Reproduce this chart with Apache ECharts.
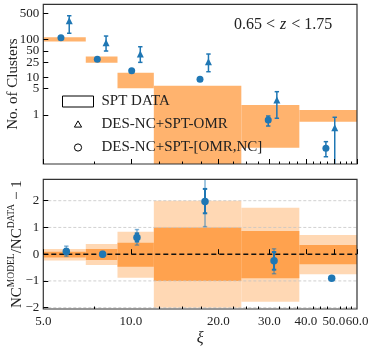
<!DOCTYPE html>
<html>
<head>
<meta charset="utf-8">
<script src="https://cdn.jsdelivr.net/npm/echarts@6/dist/echarts.min.js"></script>
<style>
  html, body { margin: 0; padding: 0; background: #fff; }
  #chart { width: 374px; height: 347px; }
</style>
</head>
<body>
<div id="chart"></div>
<script>
// xi bin edges
const binEdges = [5, 7, 9, 12, 24, 38, 60];

// top panel: SPT data boxes (number of clusters, low / high)
const sptLow = [90, 24.5, 5.1, 0.03, 0.136, 0.665];
const sptHigh = [116, 35.5, 13.3, 6.0, 1.85, 1.36];

// DES-NC+SPT-OMR (triangles)
const omrXi = [6.14, 8.22, 10.78, 18.5, 31.8, 50.3];
const omrVal = [318, 83, 41.6, 26, 2.5, 0.46];
const omrLo = [148, 50, 25, 14.1, 0.82, 0.02];
const omrHi = [432, 125, 65, 41.6, 4.16, 0.87];

// DES-NC+SPT-[OMR,NC] (circles)
const ncXi = [5.75, 7.67, 10.07, 17.3, 29.7, 46.9];
const ncVal = [113, 30.1, 15, 8.9, 0.74, 0.131];
const ncLo = [105, 28, 14, 8.2, 0.51, 0.078];
const ncHi = [121, 32.5, 16.2, 9.6, 0.94, 0.196];

// bottom panel: model bands (1 sigma dark, 2 sigma light)
const band1Lo = [-0.12, -0.22, -0.47, -1.0, -0.9, -0.38];
const band1Hi = [0.09, 0.19, 0.43, 1.0, 0.87, 0.34];
const band2Lo = [-0.24, -0.40, -0.88, -2.0, -1.78, -0.75];
const band2Hi = [0.19, 0.38, 0.84, 2.0, 1.74, 0.72];

// bottom panel: ratio points
const ratXi = [6.0, 8.0, 10.5, 18.0, 31.1, 49.1];
const ratVal = [0.1, 0.0, 0.62, 1.97, -0.25, -0.9];
const rat1Lo = [0.0, -0.05, 0.47, 1.53, -0.58, -0.9];
const rat1Hi = [0.2, 0.05, 0.78, 2.44, 0.08, -0.9];
const rat2Lo = [-0.08, -0.1, 0.34, 1.03, -0.73, -0.9];
const rat2Hi = [0.3, 0.1, 0.92, 3.2, 0.2, -0.9];

// ticks
const xMajor = [5, 10, 20, 30, 40, 50, 60];
const xMinor = [7.5, 12.5, 15, 17.5, 22.5, 25, 27.5, 32.5, 35, 37.5, 42.5, 45, 47.5, 52.5, 55, 57.5];
const yTopTicks = [1, 5, 10, 25, 50, 100, 250, 500];
const yBotTicks = [-2, -1, 0, 1, 2];
const gridVals = [-2, -1, 1, 2];

const FONT = 'Liberation Serif';
const BLUE = '#1f77b4';
const TXT = '#222';

function clampY(y, cs) {
  return Math.min(Math.max(y, cs.y), cs.y + cs.height);
}

function boxRender(fill) {
  return function (params, api) {
    const cs = params.coordSys;
    const p0 = api.coord([api.value(0), api.value(3)]);
    const p1 = api.coord([api.value(1), api.value(2)]);
    const y0 = clampY(p0[1], cs), y1 = clampY(p1[1], cs);
    return {
      type: 'rect',
      shape: { x: p0[0], y: y0, width: p1[0] - p0[0], height: y1 - y0 },
      style: { fill: fill }
    };
  };
}

function errRender(color, lw, cap) {
  return function (params, api) {
    const cs = params.coordSys;
    const hi = api.coord([api.value(0), api.value(2)]);
    const lo = api.coord([api.value(0), api.value(1)]);
    const x = hi[0];
    const yt = clampY(hi[1], cs), yb = clampY(lo[1], cs);
    const kids = [{ type: 'line', shape: { x1: x, y1: yt, x2: x, y2: yb }, style: { stroke: color, lineWidth: lw } }];
    if (cap && yt === hi[1]) kids.push({ type: 'line', shape: { x1: x - cap, y1: yt, x2: x + cap, y2: yt }, style: { stroke: color, lineWidth: lw } });
    if (cap && yb === lo[1]) kids.push({ type: 'line', shape: { x1: x - cap, y1: yb, x2: x + cap, y2: yb }, style: { stroke: color, lineWidth: lw } });
    return { type: 'group', children: kids };
  };
}

function hlineRender(color, lw, dash) {
  return function (params, api) {
    const cs = params.coordSys;
    const y = api.coord([api.value(0), api.value(1)])[1];
    return {
      type: 'line',
      shape: { x1: cs.x, y1: y, x2: cs.x + cs.width, y2: y },
      style: { stroke: color, lineWidth: lw, lineDash: dash }
    };
  };
}

function frameRender(params) {
  const cs = params.coordSys;
  return {
    type: 'rect',
    shape: { x: cs.x, y: cs.y, width: cs.width, height: cs.height },
    style: { fill: 'none', stroke: '#333', lineWidth: 1.2 }
  };
}

const sptBoxes = sptLow.map((lo, i) => [binEdges[i], binEdges[i + 1], lo, sptHigh[i]]);
const band1 = band1Lo.map((lo, i) => [binEdges[i], binEdges[i + 1], lo, band1Hi[i]]);
const band2 = band2Lo.map((lo, i) => [binEdges[i], binEdges[i + 1], lo, band2Hi[i]]);

function xAxisBase(grid, ticks, len, showLabel) {
  return {
    type: 'log', gridIndex: grid, min: 5, max: 60, position: 'bottom', z: 10,
    axisLine: { show: false },
    axisTick: { show: true, inside: true, length: len, customValues: ticks, lineStyle: { color: '#000', width: 1 } },
    axisLabel: showLabel ? {
      customValues: xMajor, formatter: v => v.toFixed(1), hideOverlap: false,
      showMinLabel: true, showMaxLabel: true,
      fontFamily: FONT, fontSize: 13, color: TXT, margin: 6
    } : { show: false },
    splitLine: { show: false }
  };
}

const xBottom = xAxisBase(1, xMajor, 5, true);
xBottom.name = 'ξ';
xBottom.nameLocation = 'middle';
xBottom.nameGap = 22;
xBottom.nameTextStyle = { fontFamily: FONT, fontSize: 16, fontStyle: 'italic', color: TXT };

const option = {
  animation: false,
  backgroundColor: '#fff',
  title: {
    text: '{a|0.65 <} {z|z} {a|< 1.75}',
    left: 229, top: 11,
    textStyle: {
      fontWeight: 'normal',
      rich: {
        a: { fontFamily: FONT, fontSize: 16, fontWeight: 'normal', color: TXT },
        z: { fontFamily: FONT, fontSize: 16, fontStyle: 'italic', fontWeight: 'normal', color: TXT }
      }
    }
  },
  legend: {
    orient: 'vertical', left: 57, top: 89,
    itemWidth: 31, itemHeight: 11, itemGap: 8,
    selectedMode: false,
    textStyle: { fontFamily: FONT, fontSize: 15, color: TXT, padding: [0, 0, 0, 3] },
    data: [
      { name: 'SPT DATA', icon: 'rect', itemStyle: { color: '#fff', borderColor: '#000', borderWidth: 1 } },
      { name: 'DES-NC+SPT-OMR', icon: 'path://M0,-5.5M0,5.5M-3.6,2.6L0,-3.6L3.6,2.6Z', itemStyle: { color: '#fff', borderColor: '#000', borderWidth: 1 } },
      { name: 'DES-NC+SPT-[OMR,NC]', icon: 'path://M0,-5.5M0,5.5M3.6,0A3.6,3.6,0,1,1,-3.6,0A3.6,3.6,0,1,1,3.6,0Z', itemStyle: { color: '#fff', borderColor: '#000', borderWidth: 1 } }
    ]
  },
  grid: [
    { left: 43.3, top: 4.3, width: 313.7, height: 159.7, show: false, outerBoundsMode: 'none' },
    { left: 43.3, top: 179.3, width: 313.7, height: 129.7, show: false, outerBoundsMode: 'none' }
  ],
  xAxis: [
    xAxisBase(0, xMajor, 5, false),
    xBottom,
    xAxisBase(0, xMinor, 2.5, false),
    xAxisBase(1, xMinor, 2.5, false)
  ],
  yAxis: [
    {
      type: 'log', gridIndex: 0, min: 0.05, max: 870, position: 'left', z: 10,
      axisLine: { show: false },
      axisTick: { inside: true, length: 5, customValues: yTopTicks, lineStyle: { color: '#000' } },
      axisLabel: {
        customValues: yTopTicks, formatter: v => String(v), fontFamily: FONT, fontSize: 13,
        color: TXT, margin: 4, hideOverlap: false, showMinLabel: true, showMaxLabel: true
      },
      splitLine: { show: false },
      name: 'No. of Clusters', nameLocation: 'middle', nameGap: 23, nameRotate: 90,
      nameMoveOverlap: false,
      nameTextStyle: { fontFamily: FONT, fontSize: 15, color: TXT }
    },
    {
      type: 'value', gridIndex: 1, min: -2.05, max: 2.8, position: 'left', z: 10,
      axisLine: { show: false },
      axisTick: { inside: true, length: 5, customValues: yBotTicks, lineStyle: { color: '#000' } },
      axisLabel: {
        customValues: yBotTicks, formatter: v => (v < 0 ? '\u2212' + Math.abs(v) : String(v)),
        fontFamily: FONT, fontSize: 13, color: TXT, margin: 4, hideOverlap: false,
        showMinLabel: true, showMaxLabel: true
      },
      splitLine: { show: false },
      name: '{m|NC}{s|MODEL}{m|/NC}{s|DATA}{m| \u2212 1}',
      nameLocation: 'middle', nameGap: 19, nameRotate: 90,
      nameMoveOverlap: false,
      nameTextStyle: {
        rich: {
          m: { fontFamily: FONT, fontSize: 15, color: TXT, lineHeight: 18, verticalAlign: 'bottom' },
          s: { fontFamily: FONT, fontSize: 9.5, color: TXT, verticalAlign: 'top' }
        }
      }
    }
  ],
  series: [
    // top panel
    { name: 'SPT DATA', type: 'custom', xAxisIndex: 0, yAxisIndex: 0, z: 1,
      renderItem: boxRender('#ffb36e'), encode: { x: [0, 1], y: [2, 3] }, data: sptBoxes },
    { name: 'omrErr', type: 'custom', xAxisIndex: 0, yAxisIndex: 0, z: 3,
      renderItem: errRender(BLUE, 1.5, 2.2), encode: { x: 0, y: [1, 2] },
      data: omrXi.map((x, i) => [x, omrLo[i], omrHi[i]]) },
    { name: 'DES-NC+SPT-OMR', type: 'scatter', xAxisIndex: 0, yAxisIndex: 0, z: 4,
      symbol: 'triangle', symbolSize: 7, itemStyle: { color: BLUE, opacity: 1 },
      data: omrXi.map((x, i) => [x, omrVal[i]]) },
    { name: 'ncErr', type: 'custom', xAxisIndex: 0, yAxisIndex: 0, z: 3,
      renderItem: errRender(BLUE, 1.5, 2.2), encode: { x: 0, y: [1, 2] },
      data: ncXi.map((x, i) => [x, ncLo[i], ncHi[i]]) },
    { name: 'DES-NC+SPT-[OMR,NC]', type: 'scatter', xAxisIndex: 0, yAxisIndex: 0, z: 4,
      symbol: 'circle', symbolSize: 7, itemStyle: { color: BLUE, opacity: 1 },
      data: ncXi.map((x, i) => [x, ncVal[i]]) },
    { name: 'frameTop', type: 'custom', xAxisIndex: 0, yAxisIndex: 0, z: 10, silent: true,
      renderItem: frameRender, data: [[10, 1]] },

    // bottom panel
    { name: 'band2', type: 'custom', xAxisIndex: 1, yAxisIndex: 1, z: 1,
      renderItem: boxRender('#ffd8b4'), encode: { x: [0, 1], y: [2, 3] }, data: band2 },
    { name: 'band1', type: 'custom', xAxisIndex: 1, yAxisIndex: 1, z: 1,
      renderItem: boxRender('#ffa24e'), encode: { x: [0, 1], y: [2, 3] }, data: band1 },
    { name: 'gridLines', type: 'custom', xAxisIndex: 1, yAxisIndex: 1, z: 2, silent: true,
      renderItem: hlineRender('#c4c4c4', 0.8, [3, 2]), encode: { x: 0, y: 1 },
      data: gridVals.map(v => [binEdges[0], v]) },
    { name: 'zeroLine', type: 'custom', xAxisIndex: 1, yAxisIndex: 1, z: 2, silent: true,
      renderItem: hlineRender('#111', 1.4, [5, 3]), encode: { x: 0, y: 1 },
      data: [[binEdges[0], 0]] },
    { name: 'ratErr2', type: 'custom', xAxisIndex: 1, yAxisIndex: 1, z: 3,
      renderItem: errRender('rgba(31,119,180,0.55)', 1.5, 2.2), encode: { x: 0, y: [1, 2] },
      data: ratXi.map((x, i) => [x, rat2Lo[i], rat2Hi[i]]) },
    { name: 'ratErr1', type: 'custom', xAxisIndex: 1, yAxisIndex: 1, z: 3,
      renderItem: errRender(BLUE, 2, 2.2), encode: { x: 0, y: [1, 2] },
      data: ratXi.map((x, i) => [x, rat1Lo[i], rat1Hi[i]]) },
    { name: 'ratio', type: 'scatter', xAxisIndex: 1, yAxisIndex: 1, z: 4,
      symbol: 'circle', symbolSize: 7.5, itemStyle: { color: BLUE, opacity: 1 },
      data: ratXi.map((x, i) => [x, ratVal[i]]) },
    { name: 'frameBottom', type: 'custom', xAxisIndex: 1, yAxisIndex: 1, z: 10, silent: true,
      renderItem: frameRender, data: [[10, 0]] }
  ]
};

const chart = echarts.init(document.getElementById('chart'), null, { renderer: 'canvas' });
chart.setOption(option);
window.addEventListener('resize', () => chart.resize());
</script>
</body>
</html>
